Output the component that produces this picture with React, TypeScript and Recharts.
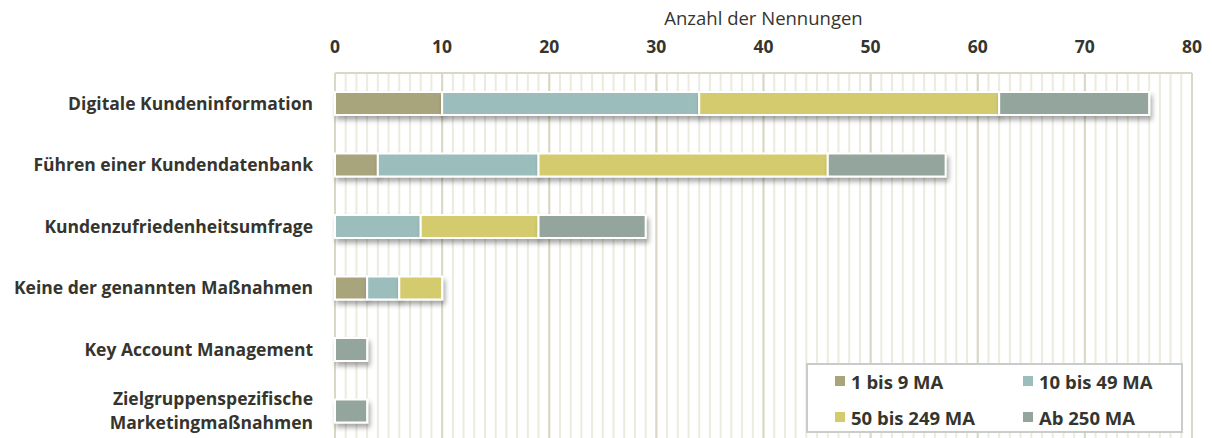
import React from 'react';
import { BarChart, Bar, XAxis, YAxis, CartesianGrid, Legend } from 'recharts';

const FONT = "'Open Sans', sans-serif";
const TEXT = '#35352e';

const categories = [
  'Digitale Kundeninformation',
  'Führen einer Kundendatenbank',
  'Kundenzufriedenheitsumfrage',
  'Keine der genannten Maßnahmen',
  'Key Account Management',
  'Zielgruppenspezifische Marketingmaßnahmen',
];
const ma1to9 = [10, 4, 0, 3, 0, 0];
const ma10to49 = [24, 15, 8, 3, 0, 0];
const ma50to249 = [28, 27, 11, 4, 0, 0];
const ab250 = [14, 11, 10, 0, 3, 3];

const seriesNames = ['1 bis 9 MA', '10 bis 49 MA', '50 bis 249 MA', 'Ab 250 MA'];
const seriesColors = ['#a8a47c', '#9bbebd', '#d3cb6e', '#94a59d'];
const majorTicks = [0, 10, 20, 30, 40, 50, 60, 70, 80];
const minorTicks = Array.from({ length: 81 }, (_, i) => i);
const axisTitle = 'Anzahl der Nennungen';
const X_MAX = 80;

const data = categories.map((name, i) => ({
  name,
  s1: ma1to9[i],
  s2: ma10to49[i],
  s3: ma50to249[i],
  s4: ab250[i],
}));

const BarShape = (props: any) => {
  const { x, y, width, height, fill } = props;
  if (!width || width <= 0) return null;
  return (
    <g>
      <defs>
        <filter id="barShadow" x="-20%" y="-60%" width="150%" height="260%">
          <feDropShadow dx="2" dy="4" stdDeviation="2.5" floodColor="#000" floodOpacity="0.35" />
        </filter>
      </defs>
      <rect x={x} y={y} width={width} height={height} fill={fill} stroke="#fff" strokeWidth={2} filter="url(#barShadow)" />
    </g>
  );
};

const XTick = (props: any) => {
  const { x, y, payload } = props;
  return (
    <text x={x} y={y} textAnchor="middle" fontFamily={FONT} fontWeight={700} fontSize={17.5} fill={TEXT} dy={-12}>
      {payload.value}
    </text>
  );
};

const TitleLabel = (props: any) => {
  const { viewBox } = props;
  const vb = viewBox || { x: 327, y: 0, width: 857 };
  return (
    <text x={vb.x + vb.width / 2} y={vb.y + 17} textAnchor="middle" fontFamily={FONT} fontSize={18.5} fill={TEXT}>
      {axisTitle}
    </text>
  );
};

const YTick = (props: any) => {
  const { x, y, payload } = props;
  const label: string = payload.value;
  const lines = label.length > 32 ? label.split(' ') : [label];
  const lh = 24;
  const startDy = -((lines.length - 1) * lh) / 2;
  return (
    <text x={x} y={y} textAnchor="end" fontFamily={FONT} fontWeight={700} fontSize={17.5} fill={TEXT}>
      {lines.map((l, i) => (
        <tspan key={i} x={x} dy={i === 0 ? startDy + 6 : lh}>
          {l}
        </tspan>
      ))}
    </text>
  );
};

const LegendContent = () => (
  <div
    style={{
      boxSizing: 'border-box',
      width: 377,
      height: 70,
      border: '2px solid #c8cdcb',
      background: '#fff',
      position: 'relative',
      fontFamily: FONT,
      fontWeight: 700,
      fontSize: 18.5,
      color: TEXT,
    }}
  >
    {seriesNames.map((n, i) => {
      const col = i % 2;
      const row = Math.floor(i / 2);
      return (
        <div
          key={n}
          style={{
            position: 'absolute',
            left: col === 0 ? 27 : 215,
            top: row === 0 ? 4 : 40,
            display: 'flex',
            alignItems: 'center',
            height: 24,
            whiteSpace: 'nowrap',
          }}
        >
          <span style={{ display: 'inline-block', width: 10, height: 10, background: seriesColors[i], marginRight: 6 }} />
          <span>{n}</span>
        </div>
      );
    })}
  </div>
);

const minorGen = ({ xAxis, offset }: any) =>
  minorTicks.map((v) => {
    const sc = xAxis && xAxis.scale;
    if (typeof sc === 'function') return sc(v);
    if (sc && typeof sc.map === 'function') return sc.map(v);
    return offset.left + (v / X_MAX) * offset.width;
  });

export default function App() {
  return (
    <BarChart
      width={1204}
      height={440}
      data={data}
      layout="vertical"
      margin={{ top: 0, right: 20, left: 0, bottom: 6 }}
      barCategoryGap={0}
    >
      <CartesianGrid horizontal={false} stroke="#ecebdf" strokeWidth={2} verticalCoordinatesGenerator={minorGen} />
      <CartesianGrid
        stroke="#dad7c5"
        strokeWidth={2}
        horizontalCoordinatesGenerator={({ offset }: any) => [offset.top]}
      />
      <XAxis
        type="number"
        orientation="top"
        domain={[0, X_MAX]}
        ticks={majorTicks}
        axisLine={false}
        tickLine={false}
        height={65}
        tick={<XTick />}
        interval={0}
        label={<TitleLabel />}
      />
      <YAxis
        type="category"
        dataKey="name"
        width={327}
        axisLine={false}
        tickLine={false}
        tickSize={0}
        tickMargin={22}
        tick={<YTick />}
        interval={0}
      />
      <Legend
        layout="horizontal"
        verticalAlign="middle"
        align="center"
        wrapperStyle={{ left: 798, top: 355, width: 377, height: 70 }}
        content={<LegendContent />}
      />
      <Bar dataKey="s1" name={seriesNames[0]} stackId="a" fill={seriesColors[0]} barSize={23} shape={<BarShape />} isAnimationActive={false} />
      <Bar dataKey="s2" name={seriesNames[1]} stackId="a" fill={seriesColors[1]} barSize={23} shape={<BarShape />} isAnimationActive={false} />
      <Bar dataKey="s3" name={seriesNames[2]} stackId="a" fill={seriesColors[2]} barSize={23} shape={<BarShape />} isAnimationActive={false} />
      <Bar dataKey="s4" name={seriesNames[3]} stackId="a" fill={seriesColors[3]} barSize={23} shape={<BarShape />} isAnimationActive={false} />
    </BarChart>
  );
}
